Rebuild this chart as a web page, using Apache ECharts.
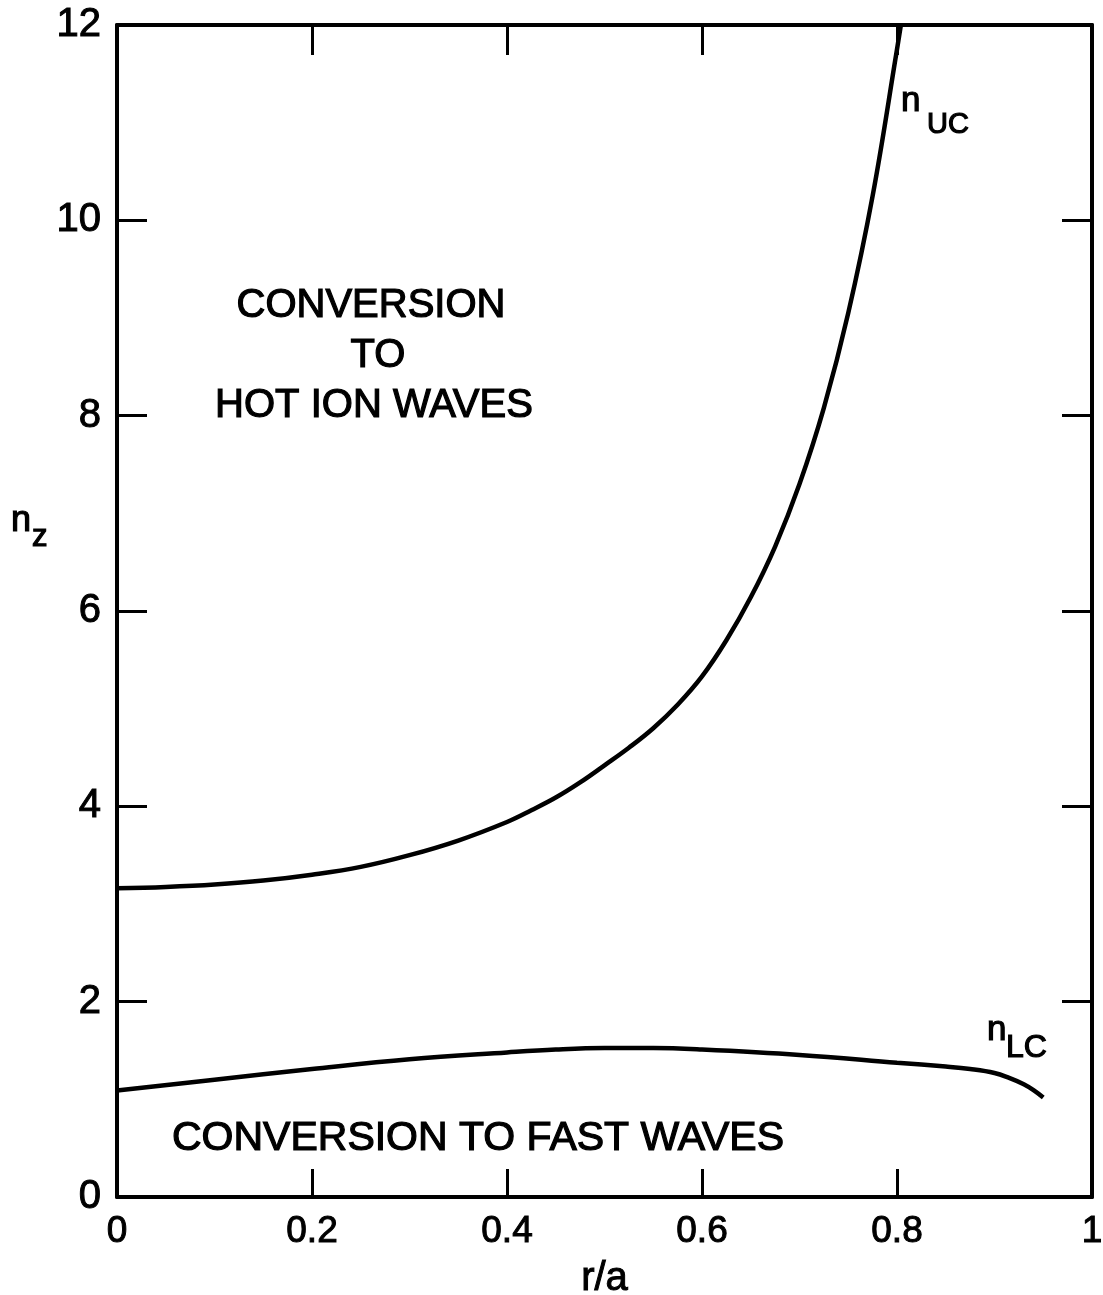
<!DOCTYPE html>
<html>
<head>
<meta charset="utf-8">
<title>n_z versus r/a</title>
<script src="https://cdn.jsdelivr.net/npm/echarts@6/dist/echarts.min.js"></script>
<style>
  html, body { margin: 0; padding: 0; background: #fff; }
  #chart { width: 1103px; height: 1295px; }
</style>
</head>
<body>
<div id="chart"></div>
<script>
// Upper cutoff n_UC versus normalized radius r/a
const rUC = [0, 0.05, 0.1, 0.15, 0.2, 0.25, 0.3, 0.35, 0.4, 0.425, 0.45, 0.475, 0.5, 0.525, 0.55, 0.575, 0.6, 0.625, 0.65, 0.675, 0.7, 0.725, 0.75, 0.775, 0.8, 0.804];
const nUC = [3.16, 3.175, 3.20, 3.24, 3.30, 3.38, 3.50, 3.65, 3.84, 3.96, 4.09, 4.245, 4.42, 4.60, 4.80, 5.04, 5.33, 5.70, 6.14, 6.66, 7.30, 8.08, 9.05, 10.25, 11.75, 12.0];

// Lower cutoff n_LC versus r/a
const rLC = [0, 0.1, 0.2, 0.3, 0.4, 0.45, 0.5, 0.55, 0.6, 0.7, 0.8, 0.85, 0.875, 0.9, 0.915, 0.93, 0.94, 0.95];
const nLC = [1.09, 1.20, 1.31, 1.41, 1.48, 1.51, 1.525, 1.525, 1.51, 1.455, 1.375, 1.335, 1.31, 1.27, 1.22, 1.155, 1.095, 1.02];

// Tick labels
const xTickLabels = ['0', '0.2', '0.4', '0.6', '0.8', '1'];
const yTickLabels = ['0', '2', '4', '6', '8', '10', '12'];

const FONT = '"Liberation Sans", Arial, sans-serif';
const INK = '#000';

const chart = echarts.init(document.getElementById('chart'), null, { renderer: 'canvas' });

// All four frame sides stay at the grid edges (no snapping to zero)
const frameLine = { show: true, onZero: false, lineStyle: { color: INK, width: 4 } };
const inTicks = (len) => ({ show: true, inside: true, length: len, lineStyle: { color: INK, width: 3 } });

const pairs = (xs, ys) => xs.map((x, i) => [x, ys[i]]);

const textEl = (text, x, y, size, align) => ({
  type: 'text',
  x: x, y: y,
  style: {
    text: text,
    font: size + 'px ' + FONT,
    fill: INK,
    stroke: INK,
    lineWidth: 1.2,
    textAlign: align || 'left',
    textVerticalAlign: 'top'
  }
});

const tickLabelStyle = (size) => ({
  color: INK, fontFamily: FONT, fontSize: size,
  textBorderColor: INK, textBorderWidth: 1
});

chart.setOption({
  animation: false,
  backgroundColor: '#fff',
  grid: { left: 117, right: 11, top: 25, bottom: 98, containLabel: false, outerBoundsMode: 'none' },
  xAxis: [
    {
      type: 'value', min: 0, max: 1, interval: 0.2, position: 'bottom',
      axisLine: frameLine, axisTick: inTicks(28), splitLine: { show: false },
      axisLabel: Object.assign({
        show: true, showMinLabel: true, showMaxLabel: true, margin: 16,
        formatter: (v, i) => xTickLabels[i]
      }, tickLabelStyle(37)),
      name: 'r/a', nameLocation: 'middle', nameGap: 62,
      nameTextStyle: { color: INK, fontFamily: FONT, fontSize: 40, textBorderColor: INK, textBorderWidth: 1 }
    },
    {
      type: 'value', min: 0, max: 1, interval: 0.2, position: 'top',
      axisLine: frameLine, axisTick: inTicks(30), splitLine: { show: false },
      axisLabel: { show: false }
    }
  ],
  yAxis: [
    {
      type: 'value', min: 0, max: 12, interval: 2, position: 'left',
      axisLine: frameLine, axisTick: inTicks(30), splitLine: { show: false },
      axisLabel: Object.assign({
        show: true, showMinLabel: true, showMaxLabel: true, margin: 16,
        formatter: (v, i) => yTickLabels[i]
      }, tickLabelStyle(40))
    },
    {
      type: 'value', min: 0, max: 12, interval: 2, position: 'right',
      axisLine: frameLine, axisTick: inTicks(30), splitLine: { show: false },
      axisLabel: { show: false }
    }
  ],
  series: [
    {
      name: 'n_UC', type: 'line', xAxisIndex: 0, yAxisIndex: 0,
      data: pairs(rUC, nUC), showSymbol: false, smooth: 0.4,
      lineStyle: { color: INK, width: 4.5 }, clip: true
    },
    {
      name: 'n_LC', type: 'line', xAxisIndex: 0, yAxisIndex: 0,
      data: pairs(rLC, nLC), showSymbol: false, smooth: 0.4,
      lineStyle: { color: INK, width: 4.5 }, clip: true
    }
  ],
  graphic: [
    // y axis title n_z
    textEl('n', 11, 503, 36),
    textEl('z', 32, 522, 31),
    // curve labels
    textEl('n', 901, 84, 35),
    textEl('UC', 927, 110, 29),
    textEl('n', 987, 1013, 35),
    textEl('LC', 1006, 1032, 32),
    // region labels
    textEl('CONVERSION', 371, 286, 40, 'center'),
    textEl('TO', 378, 336, 40, 'center'),
    textEl('HOT ION WAVES', 374, 386, 40, 'center'),
    textEl('CONVERSION TO FAST WAVES', 478, 1118, 41, 'center')
  ]
});
</script>
</body>
</html>
